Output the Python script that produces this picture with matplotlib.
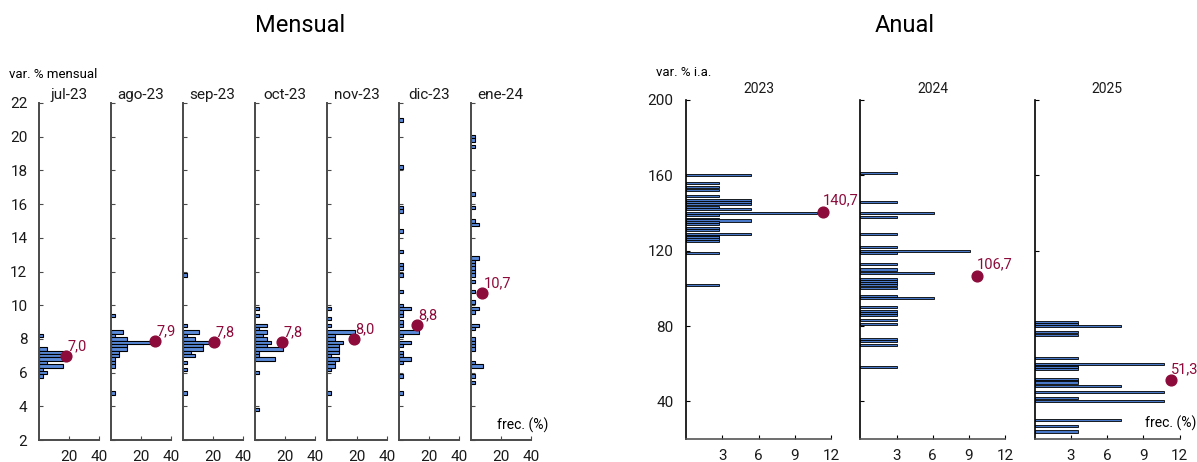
import matplotlib.pyplot as plt
import numpy as np

plt.rcParams['font.family'] = ['Roboto', 'DejaVu Sans']

# ---- Mensual: var. % mensual esperada y cantidad de respuestas ----
meses = ["jul-23", "ago-23", "sep-23", "oct-23", "nov-23", "dic-23", "ene-24"]
n_mensual = 37

jul23_val = [8.2, 7.4, 7.2, 7.0, 6.8, 6.6, 6.4, 6.2, 6.0, 5.8]
jul23_n = [1, 2, 7, 7, 7, 2, 6, 1, 2, 1]

ago23_val = [9.4, 8.4, 8.2, 8.0, 7.8, 7.6, 7.4, 7.2, 7.0, 6.8, 6.6, 6.4, 4.8]
ago23_n = [1, 3, 1, 4, 11, 4, 4, 2, 2, 1, 1, 1, 1]

sep23_val = [11.8, 8.8, 8.4, 8.2, 8.0, 7.8, 7.6, 7.4, 7.2, 7.0, 6.6, 6.2, 4.8]
sep23_n = [1, 1, 4, 1, 3, 8, 5, 5, 2, 3, 1, 1, 1]

oct23_val = [9.8, 9.4, 8.8, 8.6, 8.4, 8.2, 8.0, 7.8, 7.6, 7.4, 7.2, 7.0, 6.8, 6.0, 3.8]
oct23_n = [1, 1, 3, 1, 3, 2, 3, 4, 3, 7, 1, 1, 5, 1, 1]

nov23_val = [9.8, 9.2, 8.8, 8.4, 8.2, 8.0, 7.8, 7.6, 7.4, 7.2, 7.0, 6.8, 6.6, 6.4, 6.2, 4.8]
nov23_n = [1, 1, 1, 7, 2, 2, 4, 3, 3, 3, 1, 3, 2, 2, 1, 1]

dic23_val = [21.0, 18.2, 15.8, 15.6, 14.4, 13.2, 12.4, 12.2, 11.8, 10.8, 10.0, 9.8, 9.6,
             9.4, 9.0, 8.8, 8.4, 8.2, 7.8, 7.6, 7.2, 7.0, 6.8, 6.6, 5.8, 4.8]
dic23_n = [1, 1, 1, 1, 1, 1, 1, 1, 1, 1, 1, 3, 1, 1, 1, 1, 5, 1, 3, 1, 1, 1, 3, 1, 1, 1]

ene24_val = [20.0, 19.8, 19.4, 16.6, 15.8, 15.0, 14.8, 12.8, 12.6, 12.4, 12.2, 12.0, 11.8,
             11.4, 10.8, 10.2, 9.8, 9.6, 8.8, 8.6, 8.0, 7.8, 7.6, 7.4, 6.6, 6.4, 5.8, 5.4]
ene24_n = [1, 1, 1, 1, 1, 1, 2, 2, 1, 1, 1, 1, 1,
           1, 1, 1, 2, 1, 2, 1, 1, 1, 1, 1, 1, 3, 1, 1]

# mediana (punto) y su ubicación en el eje de frecuencia
med_mensual = [7.0, 7.9, 7.8, 7.8, 8.0, 8.8, 10.7]
med_mensual_x = [18.3, 29.3, 20.9, 18.4, 18.0, 12.4, 7.6]

# ---- Anual: var. % i.a. esperada y cantidad de respuestas ----
anios = ["2023", "2024", "2025"]
n_anual = [37, 33, 28]

a2023_val = [160, 156, 154, 152, 149, 147, 146, 145, 143, 142, 140, 139, 137, 136, 135,
             134, 132, 131, 129, 128, 127, 126, 125, 119, 102]
a2023_n = [2, 1, 1, 1, 1, 2, 2, 2, 1, 2, 4, 1, 1, 2, 1,
           1, 1, 1, 2, 1, 1, 1, 1, 1, 1]

a2024_val = [161, 146, 140, 138, 129, 122, 120, 119, 113, 110, 108, 105, 104, 103, 102,
             100, 96, 95, 90, 88, 87, 86, 83, 81, 73, 72, 70, 58]
a2024_n = [1, 1, 2, 1, 1, 1, 3, 1, 1, 1, 2, 1, 1, 1, 1,
           1, 1, 2, 1, 1, 1, 1, 1, 1, 1, 1, 1, 1]

a2025_val = [82, 81, 80, 77, 75, 63, 60, 59, 58, 57, 52, 51, 50, 48, 45, 42, 40, 30, 27, 24]
a2025_n = [1, 1, 2, 1, 1, 1, 3, 1, 1, 1, 1, 1, 1, 2, 3, 1, 3, 2, 1, 1]

med_anual = [140.7, 106.7, 51.3]
med_anual_x = [11.35, 9.65, 11.3]

mens_vals = [jul23_val, ago23_val, sep23_val, oct23_val, nov23_val, dic23_val, ene24_val]
mens_ns = [jul23_n, ago23_n, sep23_n, oct23_n, nov23_n, dic23_n, ene24_n]
anu_vals = [a2023_val, a2024_val, a2025_val]
anu_ns = [a2023_n, a2024_n, a2025_n]

W, H = 1197, 462
fig = plt.figure(figsize=(W / 100, H / 100), dpi=100)

bar_color = '#5A8AD8'
dot_color = '#8C0B3A'
spine_gray = '#4a4a4a'
txt = '#1a1a1a'


def px_axes(x0, top, w, h):
    return fig.add_axes([x0 / W, 1 - (top + h) / H, w / W, h / H])


def coma(v):
    return "{:.1f}".format(v).replace('.', ',')


# monthly panels
for i, mes in enumerate(meses):
    ax = px_axes(38.5 + 72 * i, 103, 60.5, 337)
    freq = np.array(mens_ns[i]) * 100 / n_mensual
    ax.barh(mens_vals[i], freq, height=0.2, color=bar_color,
            edgecolor='black', linewidth=0.8, zorder=2)
    ax.scatter([med_mensual_x[i]], [med_mensual[i]], s=60, color=dot_color, zorder=4)
    ax.annotate(coma(med_mensual[i]), (med_mensual_x[i], med_mensual[i]),
                xytext=(1, 2), textcoords='offset points', ha='left', va='bottom',
                color=dot_color, fontsize=10.5, zorder=5)
    ax.set_xlim(0, 40)
    ax.set_ylim(2, 22)
    ax.set_xticks([20, 40])
    ax.set_yticks(np.arange(2, 23, 2))
    ax.tick_params(direction='in', length=3, width=0.8, labelsize=11, colors=spine_gray,
                   labelcolor=txt)
    ax.tick_params(axis='y', pad=8)
    ax.tick_params(axis='x', pad=7)
    if i > 0:
        ax.tick_params(labelleft=False)
    for s in ['top', 'right']:
        ax.spines[s].set_visible(False)
    for s in ['left', 'bottom']:
        ax.spines[s].set_color(spine_gray)
        ax.spines[s].set_linewidth(1.4)
    ax.set_title(mes, fontsize=11, pad=3, color=txt)

# annual panels
for i, anio in enumerate(anios):
    ax = px_axes(686 + 174.3 * i, 100, 145, 339)
    freq = np.array(anu_ns[i]) * 100 / n_anual[i]
    ax.barh(anu_vals[i], freq, height=1.1, color='#4A78C8',
            edgecolor='black', linewidth=0.6, zorder=2)
    ax.scatter([med_anual_x[i]], [med_anual[i]], s=60, color=dot_color, zorder=4)
    ax.annotate(coma(med_anual[i]), (med_anual_x[i], med_anual[i]),
                xytext=(0, 3), textcoords='offset points', ha='left', va='bottom',
                color=dot_color, fontsize=10.5, zorder=5)
    ax.set_xlim(0, 12)
    ax.set_ylim(20, 200)
    ax.set_xticks([3, 6, 9, 12])
    ax.set_yticks([40, 80, 120, 160, 200])
    ax.tick_params(direction='in', length=3, width=0.8, labelsize=11, labelcolor=txt)
    ax.tick_params(axis='y', pad=9)
    ax.tick_params(axis='x', pad=7)
    if i > 0:
        ax.tick_params(labelleft=False)
    for s in ['top', 'right']:
        ax.spines[s].set_visible(False)
    ax.spines['bottom'].set_color('#555555')
    ax.spines['bottom'].set_linewidth(1.2)
    ax.spines['left'].set_linewidth(1.2)
    ax.set_title(anio, fontsize=10, pad=5, color=txt)

fig.text(300 / W, 1 - 25 / H, "Mensual", ha='center', va='center', fontsize=17)
fig.text(905 / W, 1 - 25 / H, "Anual", ha='center', va='center', fontsize=17)
fig.text(9 / W, 1 - 75 / H, "var. % mensual", ha='left', va='center', fontsize=9.5)
fig.text(656 / W, 1 - 72 / H, "var. % i.a.", ha='left', va='center', fontsize=9.5)
fig.text(548 / W, 1 - 425 / H, "frec. (%)", ha='right', va='center', fontsize=10)
fig.text(1196 / W, 1 - 423 / H, "frec. (%)", ha='right', va='center', fontsize=10)

fig.savefig("out.png", dpi=100)
